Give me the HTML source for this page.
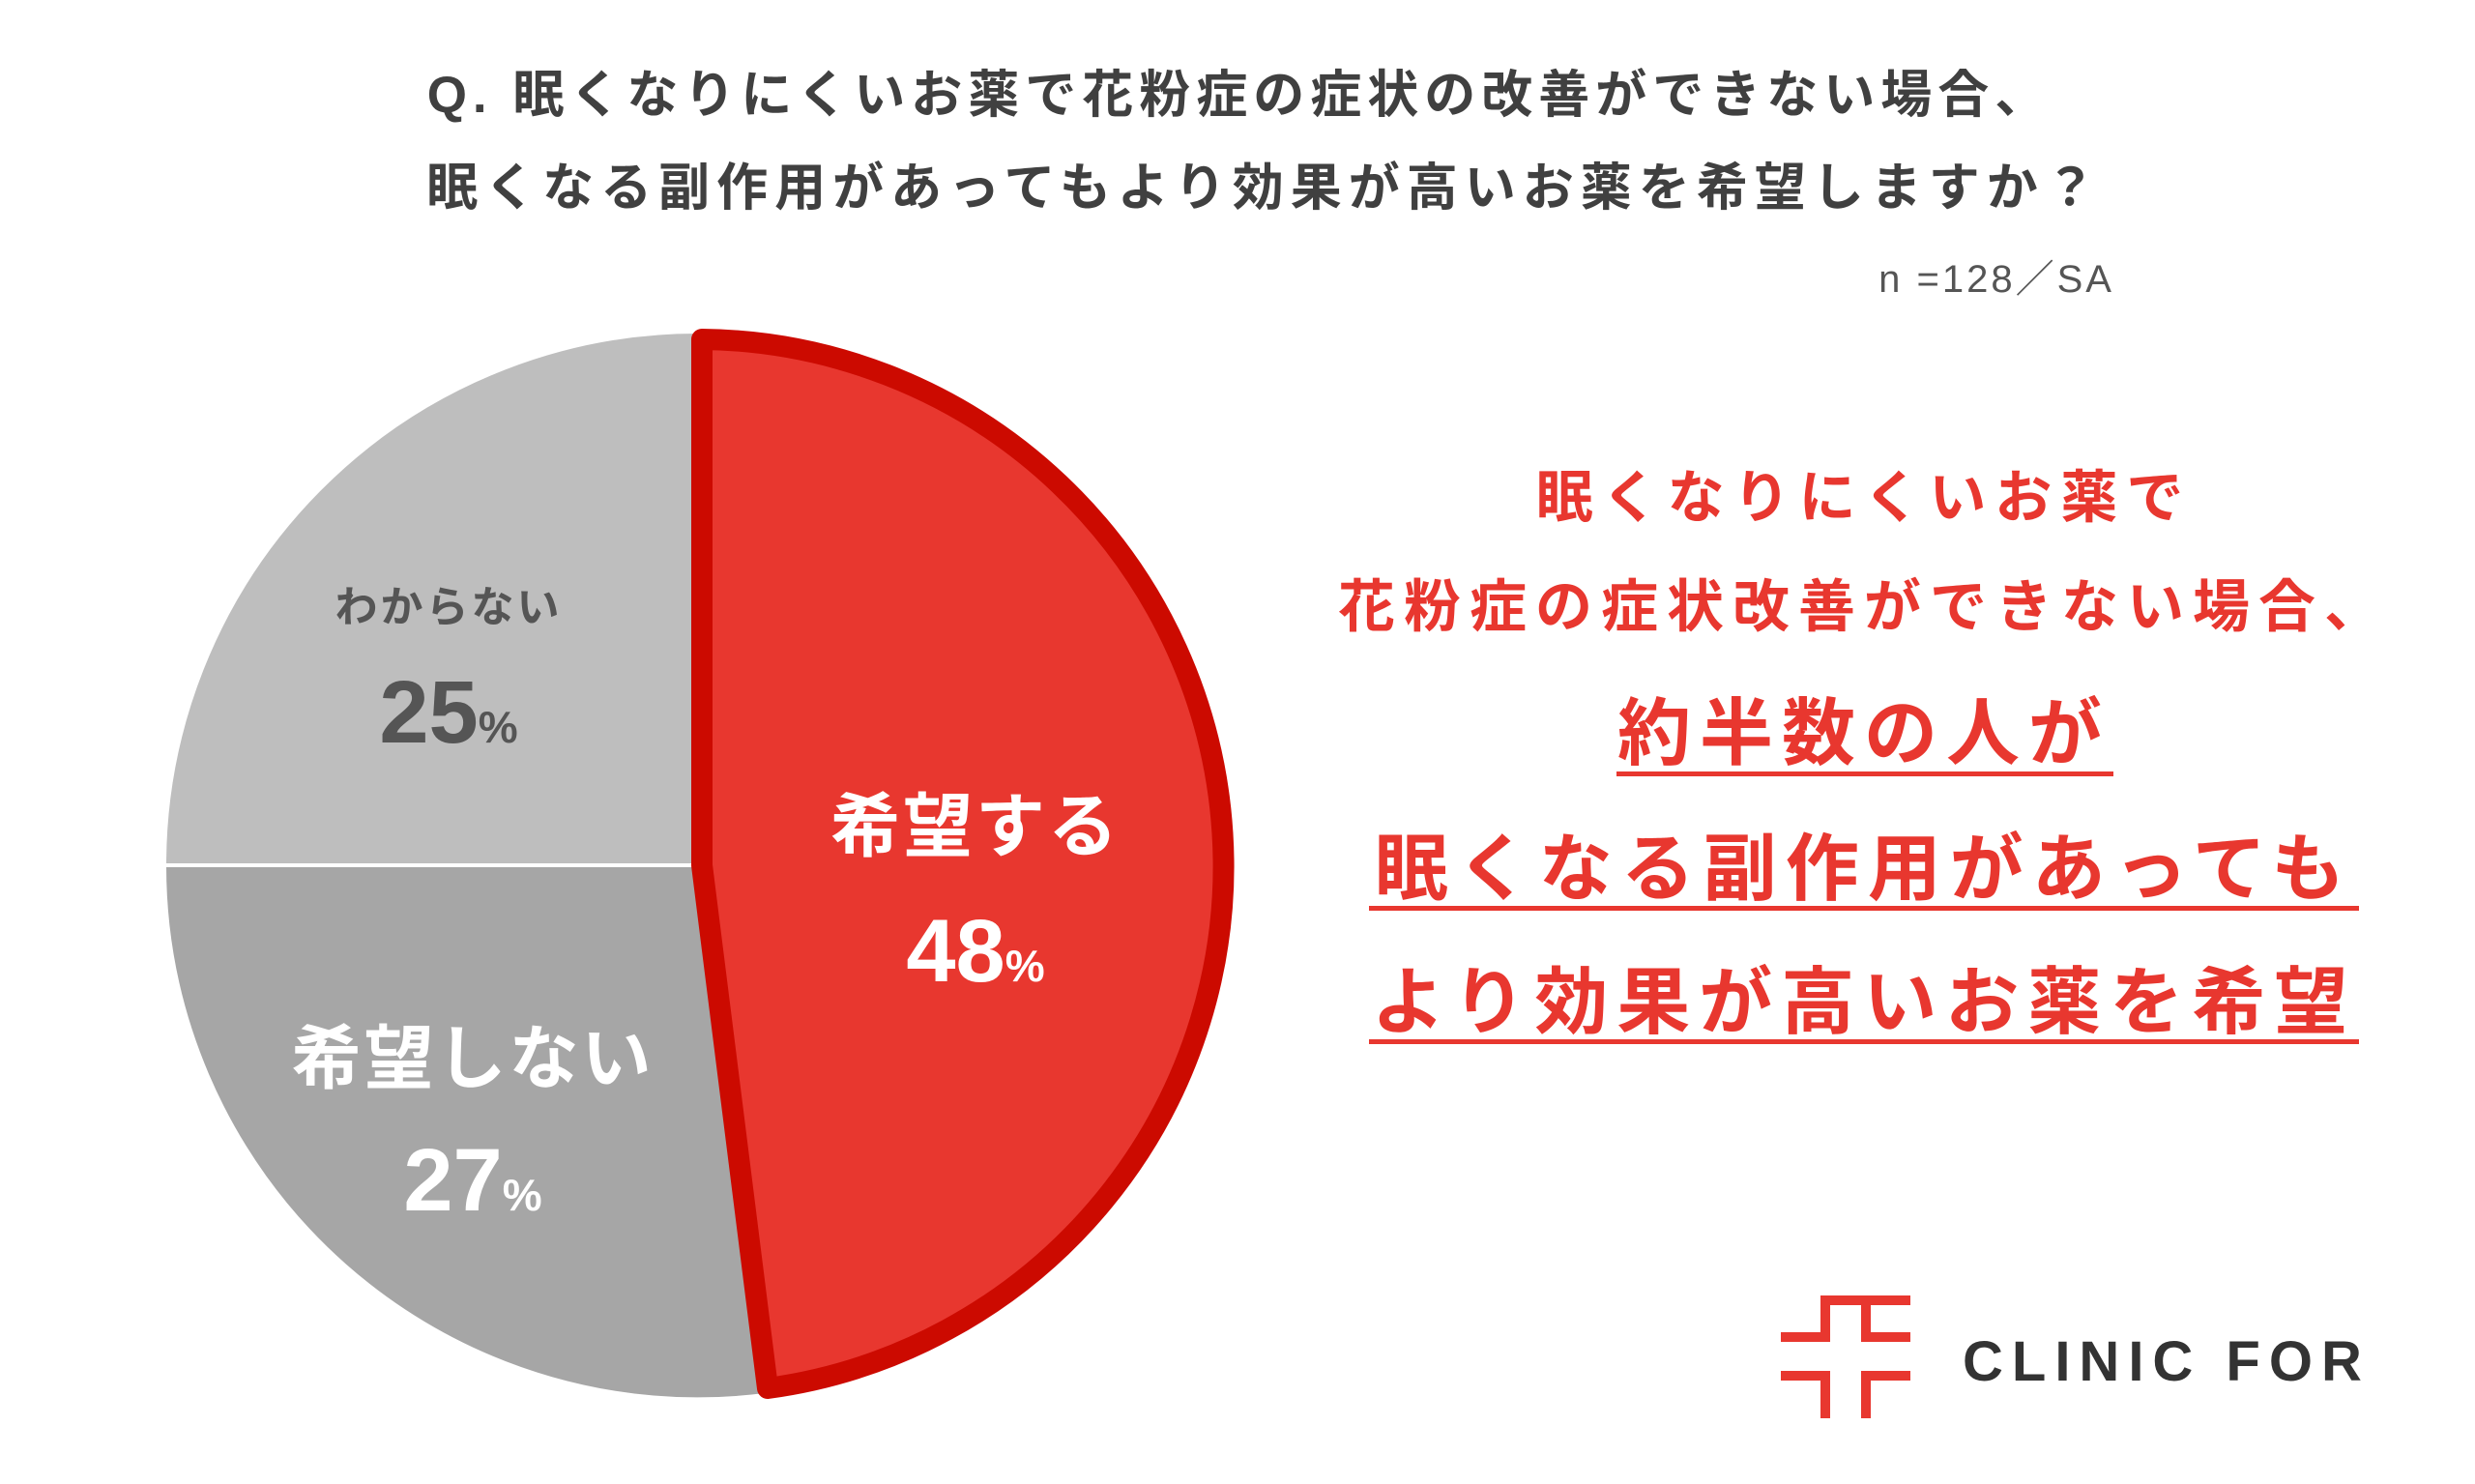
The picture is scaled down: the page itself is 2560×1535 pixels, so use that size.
<!DOCTYPE html>
<html><head><meta charset="utf-8"><style>
html,body{margin:0;padding:0;background:#fff;}
svg{display:block;}
text{font-family:"Liberation Sans","Noto Sans CJK JP",sans-serif;}
</style></head><body>
<svg width="2560" height="1535" viewBox="0 0 2560 1535" xmlns="http://www.w3.org/2000/svg">
<rect width="2560" height="1535" fill="#fff"/>
<g font-weight="bold" fill="#404040" font-size="53" text-anchor="middle">
<text x="1282" y="116" letter-spacing="6">Q.  眠くなりにくいお薬で花粉症の症状の改善ができない場合、</text>
<text x="1308" y="212" letter-spacing="7">眠くなる副作用があってもより効果が高いお薬を希望しますか？</text>
</g>
<text x="2187" y="302" font-size="40" fill="#555" text-anchor="end" letter-spacing="3">n =128／SA</text>

<!-- pie -->
<path d="M722,895 L791,1443 A552,552 0 0 1 170,895 Z" fill="#a6a6a6" stroke="#fff" stroke-width="4"/>
<path d="M722,895 L170,895 A552,552 0 0 1 722,343 Z" fill="#bebebe" stroke="#fff" stroke-width="4"/>
<path d="M726,895 L726,351 A545,545 0 0 1 794,1436 Z" fill="#e8372f" stroke="#cc0a00" stroke-width="22" stroke-linejoin="round"/>

<g font-weight="bold" text-anchor="middle">
<text x="464" y="643" font-size="44" fill="#555" letter-spacing="3">わからない</text>
<text x="464" y="768" font-size="92" fill="#555">25<tspan font-size="46">%</tspan></text>
<text x="1009" y="880" font-size="72" fill="#fff" letter-spacing="3">希望する</text>
<text x="1009" y="1015" font-size="92" fill="#fff">48<tspan font-size="46">%</tspan></text>
<text x="489" y="1120" font-size="72" fill="#fff" letter-spacing="3">希望しない</text>
<text x="489" y="1252" font-size="92" fill="#fff">27<tspan font-size="46">%</tspan></text>
</g>

<g font-weight="bold" fill="#e8372f" text-anchor="middle">
<text x="1928" y="535" font-size="59" letter-spacing="9">眠くなりにくいお薬で</text>
<text x="1928" y="648" font-size="59" letter-spacing="9">花粉症の症状改善ができない場合、</text>
<text x="1928" y="785" font-size="76" letter-spacing="9">約半数の人が</text>
<text x="1928" y="925" font-size="76" letter-spacing="9">眠くなる副作用があっても</text>
<text x="1928" y="1063" font-size="76" letter-spacing="9">より効果が高いお薬を希望</text>
</g>
<g fill="#e8372f">
<rect x="1672" y="798" width="514" height="5"/>
<rect x="1416" y="937" width="1024" height="5"/>
<rect x="1416" y="1075" width="1024" height="5"/>
</g>

<!-- logo -->
<g fill="#e8372f">
<rect x="1883" y="1340" width="93" height="10"/>
<rect x="1883" y="1340" width="10" height="48"/>
<rect x="1842" y="1378" width="51" height="10"/>
<rect x="1925" y="1350" width="10" height="38"/>
<rect x="1925" y="1378" width="51" height="10"/>
<rect x="1842" y="1418" width="51" height="10"/>
<rect x="1883" y="1418" width="10" height="49"/>
<rect x="1925" y="1418" width="51" height="10"/>
<rect x="1925" y="1418" width="10" height="49"/>
</g>
<text x="2030" y="1428" font-size="58" font-weight="bold" fill="#333" letter-spacing="9">CLINIC FOR</text>
</svg>
</body></html>
